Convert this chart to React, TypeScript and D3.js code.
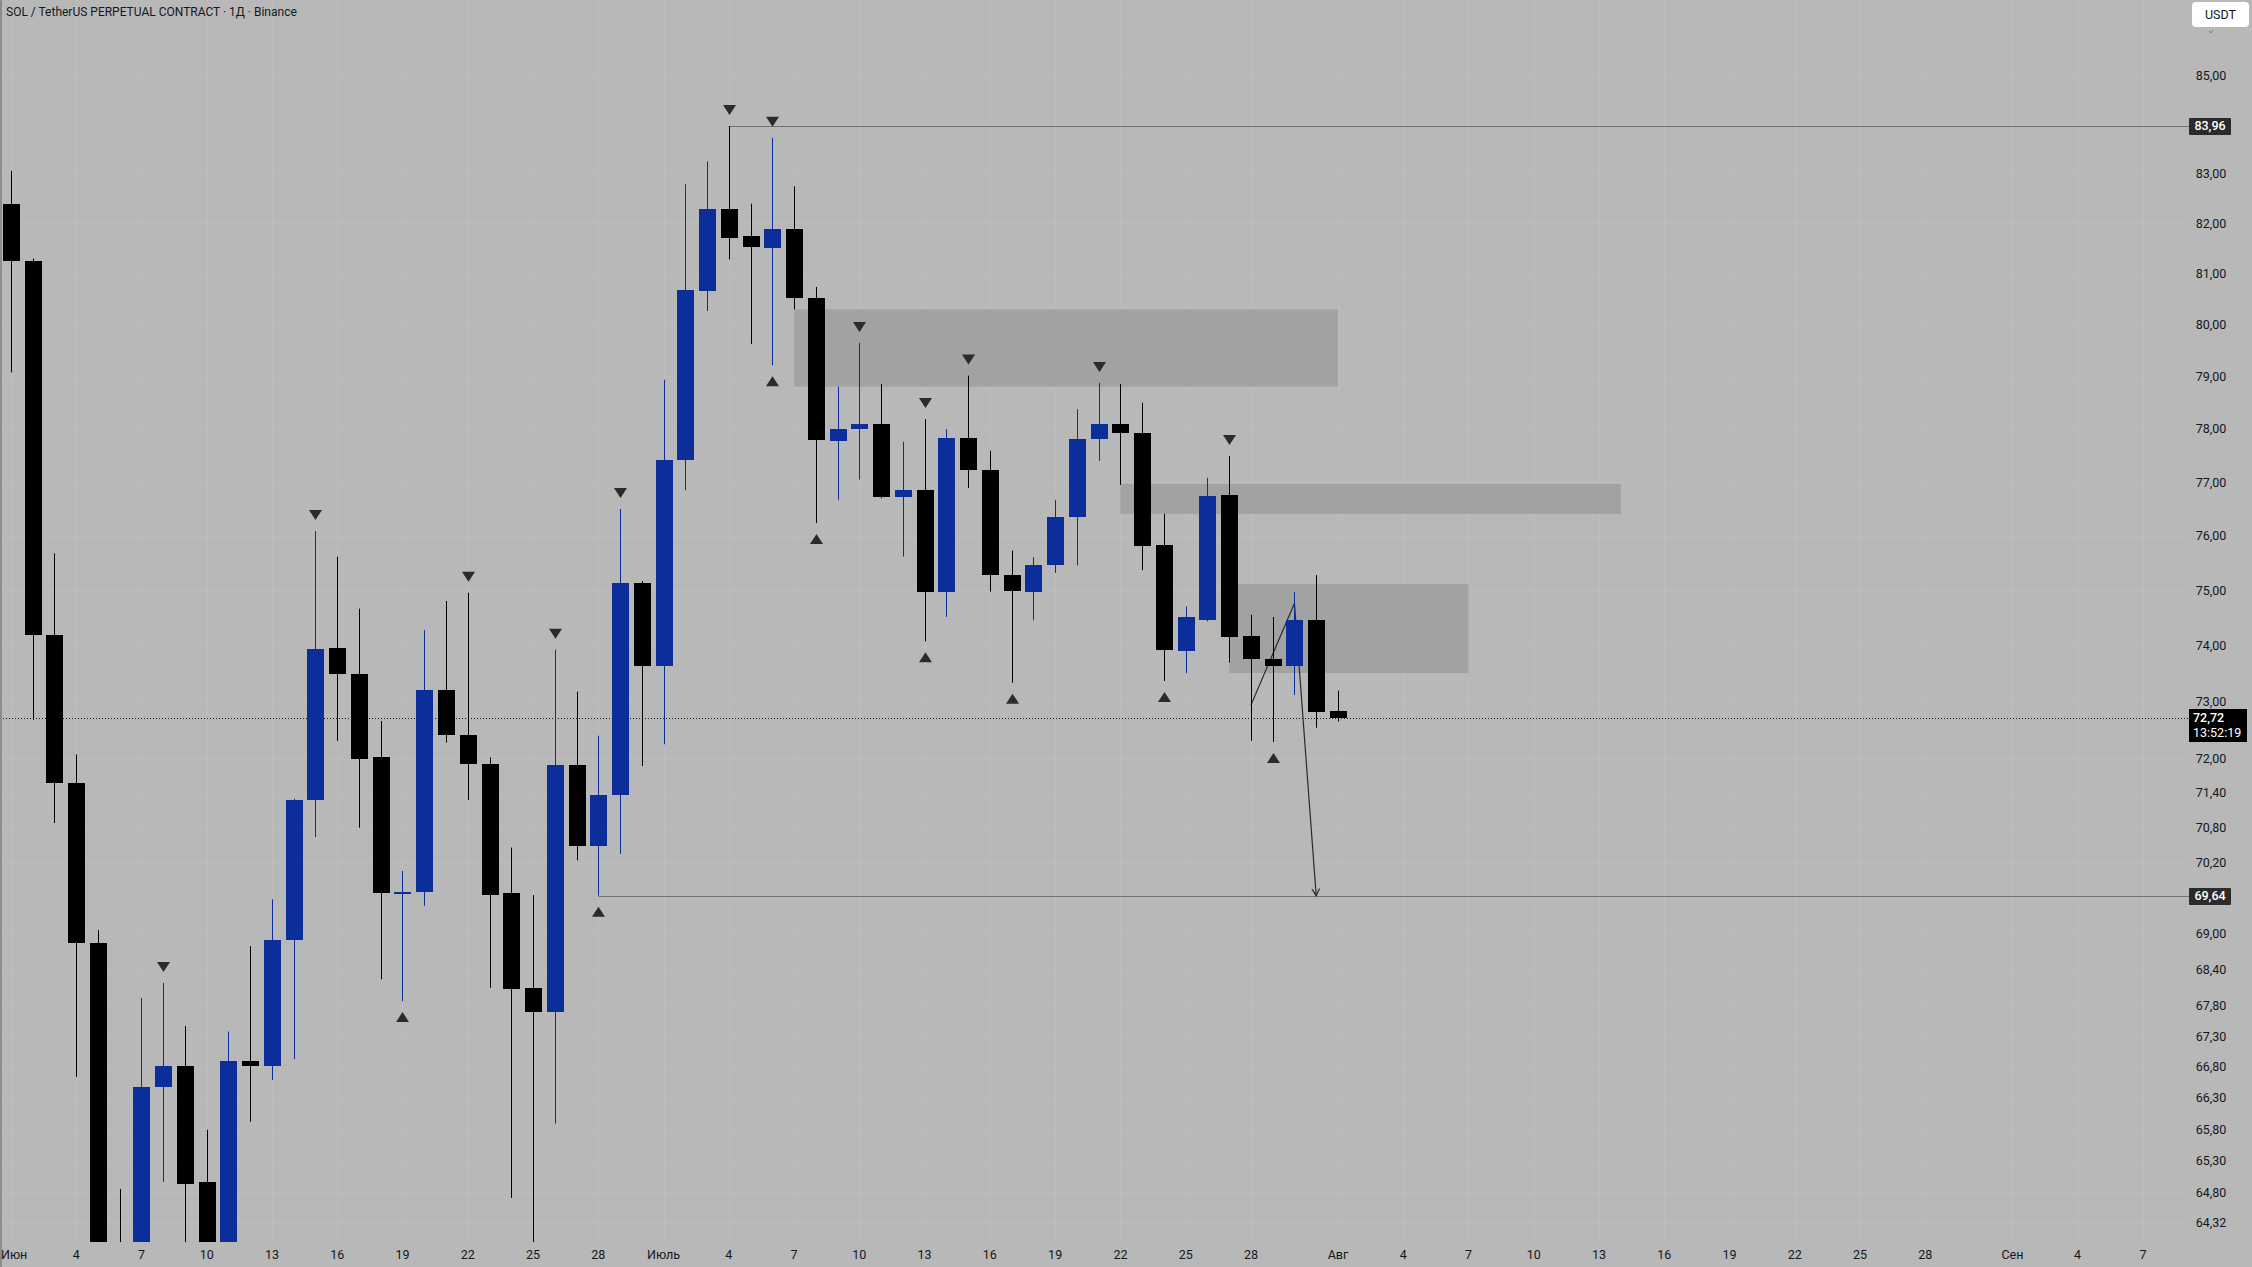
import * as d3 from "d3";

// Daily candles, 1 Jun .. 1 Aug (SOL/USDT perpetual, Binance, 1D)
const FIRST_DAY = "2025-06-01";
const OPEN = [
  82.38, 81.25, 74.19, 71.58, 68.85, 63.6, 63.2, 66.48, 66.81, 64.96,
  63.55, 66.9, 66.81, 68.9, 71.27, 73.96, 73.5, 72.02, 69.69, 69.7,
  73.21, 72.42, 71.91, 69.69, 68.1, 67.7, 71.89, 70.48, 71.37, 75.13,
  73.63, 77.41, 80.67, 82.28, 81.75, 81.51, 81.89, 80.53, 77.77, 78.0,
  78.09, 76.73, 76.86, 74.98, 77.83, 77.23, 75.29, 74.98, 75.47, 76.35,
  77.81, 78.09, 77.92, 75.84, 73.91, 74.46, 76.76, 74.17, 73.77, 73.64,
  74.46, 72.83,
];
const HIGH = [
  83.05, 81.3, 75.68, 72.07, 69.06, 64.85, 67.93, 68.18, 67.47, 65.79,
  67.38, 68.79, 69.58, 71.3, 76.09, 75.62, 74.67, 72.66, 70.06, 74.28,
  74.81, 74.96, 72.02, 70.46, 69.65, 73.93, 73.18, 72.4, 76.5, 75.17,
  78.94, 82.78, 83.24, 83.96, 82.39, 83.72, 82.74, 80.74, 78.81, 79.65,
  78.86, 77.76, 78.19, 78.0, 79.02, 77.59, 75.73, 75.61, 76.67, 78.38,
  78.88, 78.86, 78.5, 76.41, 74.71, 77.08, 77.49, 74.56, 74.52, 74.97,
  75.28, 73.2,
];
const LOW = [
  79.08, 72.68, 70.88, 66.64, 62.9, 62.7, 62.95, 64.96, 63.4, 63.1,
  63.3, 65.92, 66.59, 66.93, 70.64, 72.31, 70.8, 68.24, 67.88, 69.47,
  72.28, 71.28, 68.1, 64.71, 63.9, 65.89, 70.24, 69.64, 70.35, 71.87,
  72.25, 76.85, 80.27, 81.28, 79.63, 79.22, 80.3, 76.24, 76.67, 77.05,
  76.7, 75.62, 74.08, 74.52, 76.89, 74.98, 73.34, 74.46, 75.32, 75.46,
  77.4, 76.95, 75.37, 73.37, 73.51, 74.44, 73.7, 72.31, 72.29, 73.12,
  72.54, 72.65,
];
const CLOSE = [
  81.25, 74.19, 71.58, 68.85, 63.6, 63.2, 66.48, 66.81, 64.93, 63.55,
  66.9, 66.82, 68.9, 71.27, 73.94, 73.49, 72.0, 69.69, 69.71, 73.21,
  72.42, 71.91, 69.66, 68.08, 67.7, 71.89, 70.48, 71.37, 75.13, 73.63,
  77.41, 80.68, 82.28, 81.7, 81.53, 81.89, 80.53, 77.79, 78.0, 78.09,
  76.73, 76.86, 74.98, 77.83, 77.23, 75.29, 75.0, 75.47, 76.35, 77.81,
  78.1, 77.92, 75.82, 73.92, 74.51, 76.75, 74.16, 73.77, 73.64, 74.46,
  72.82, 72.72,
];

// pivot markers
const HIGH_MARKS = [
  "2025-06-08", "2025-06-15", "2025-06-22", "2025-06-26", "2025-06-29", "2025-07-04",
  "2025-07-06", "2025-07-10", "2025-07-13", "2025-07-15", "2025-07-21", "2025-07-27",
];
const LOW_MARKS = [
  "2025-06-19", "2025-06-28", "2025-07-06", "2025-07-08", "2025-07-13", "2025-07-17",
  "2025-07-24", "2025-07-29",
];

// gap zones
const ZONE_FROM = ["2025-07-07", "2025-07-22", "2025-07-27"];
const ZONE_TO = ["2025-08-01", "2025-08-14", "2025-08-07"];
const ZONE_TOP = [80.3, 76.97, 75.12];
const ZONE_BOTTOM = [78.81, 76.41, 73.51];

// horizontal levels
const LEVEL_FROM = ["2025-07-04", "2025-06-28"];
const LEVEL_PRICE = [83.96, 69.64];
const LAST_PRICE = 72.72;
const COUNTDOWN = "13:52:19";

// hand drawn path
const PATH_DATES = ["2025-07-28", "2025-07-30", "2025-07-31"];
const PATH_PRICES = [72.94, 74.77, 69.64];

const Y_TICKS = [
  85, 83, 82, 81, 80, 79, 78, 77, 76, 75, 74, 73, 72, 71.4, 70.8, 70.2, 69, 68.4,
  67.8, 67.3, 66.8, 66.3, 65.8, 65.3, 64.8, 64.32,
];
const X_TICKS = [
  "2025-06-01", "2025-06-04", "2025-06-07", "2025-06-10", "2025-06-13", "2025-06-16",
  "2025-06-19", "2025-06-22", "2025-06-25", "2025-06-28", "2025-07-01", "2025-07-04",
  "2025-07-07", "2025-07-10", "2025-07-13", "2025-07-16", "2025-07-19", "2025-07-22",
  "2025-07-25", "2025-07-28", "2025-08-01", "2025-08-04", "2025-08-07", "2025-08-10",
  "2025-08-13", "2025-08-16", "2025-08-19", "2025-08-22", "2025-08-25", "2025-08-28",
  "2025-09-01", "2025-09-04", "2025-09-07",
];
const MONTHS = ["Янв", "Фев", "Мар", "Апр", "Май", "Июн", "Июль", "Авг", "Сен", "Окт", "Ноя", "Дек"];

const W = 2252;
const H = 1267;
const PLOT_R = 2189;
const PLOT_B = 1242;
const FONT = "Roboto, 'Liberation Sans', sans-serif";
const BG = "#b8b8b8";
const BLUE = "#0b2e9a";
const TEXT = "#131722";

const day = (s: string) => new Date(s + "T00:00:00Z");
const fmt = (v: number) => v.toFixed(2).replace(".", ",");

export default function App() {
  const x = d3.scaleUtc().domain([day("2025-06-01"), day("2025-09-07")]).range([10.9, 2142.9]);
  const y = d3.scaleLog().domain([83.96, 69.64]).range([126, 895.7]);
  const step = x(day("2025-06-02")) - x(day("2025-06-01"));
  const bodyW = Math.round(step * 0.77);

  const candles = OPEN.map((o, i) => ({
    date: d3.utcDay.offset(day(FIRST_DAY), i),
    o, h: HIGH[i], l: LOW[i], c: CLOSE[i],
  }));
  const byKey = new Map(candles.map((d) => [d3.utcFormat("%Y-%m-%d")(d.date), d]));

  const pathLine = d3.line<number>()
    .x((_, i) => x(day(PATH_DATES[i])))
    .y((p) => y(p));
  const n = PATH_DATES.length;
  const endX = x(day(PATH_DATES[n - 1]));
  const endY = y(PATH_PRICES[n - 1]);
  const prevX = x(day(PATH_DATES[n - 2]));
  const prevY = y(PATH_PRICES[n - 2]);
  const ang = Math.atan2(endY - prevY, endX - prevX);
  const ah = 8;
  const arrow = `M${endX - ah * Math.cos(ang - 0.5)},${endY - ah * Math.sin(ang - 0.5)}L${endX},${endY}L${endX - ah * Math.cos(ang + 0.5)},${endY - ah * Math.sin(ang + 0.5)}`;

  const tri = (cx: number, cy: number, down: boolean) =>
    down
      ? `M${cx - 6.5},${cy - 5}L${cx + 6.5},${cy - 5}L${cx},${cy + 5}Z`
      : `M${cx - 6.5},${cy + 5}L${cx + 6.5},${cy + 5}L${cx},${cy - 5}Z`;

  const lastY = y(LAST_PRICE);

  return (
    <div>
      <style>{`body{margin:0;background:${BG};}`}</style>
      <svg width={W} height={H} style={{ display: "block", fontFamily: FONT }}>
        <defs>
          <clipPath id="plot">
            <rect x={0} y={0} width={PLOT_R} height={PLOT_B} />
          </clipPath>
        </defs>
        <rect x={0} y={0} width={W} height={H} fill={BG} />

        {/* grid */}
        <g stroke="#bdbdbd" strokeWidth={1}>
          {X_TICKS.map((t) => {
            const gx = Math.round(x(day(t))) + 0.5;
            return <line key={t} x1={gx} x2={gx} y1={0} y2={PLOT_B} />;
          })}
          {Y_TICKS.map((t) => {
            const gy = Math.round(y(t)) + 0.5;
            return <line key={t} x1={0} x2={PLOT_R} y1={gy} y2={gy} />;
          })}
        </g>

        <g clipPath="url(#plot)">
          {/* zones */}
          {ZONE_FROM.map((f, i) => (
            <rect
              key={f}
              x={x(day(f))}
              width={x(day(ZONE_TO[i])) - x(day(f))}
              y={y(ZONE_TOP[i])}
              height={y(ZONE_BOTTOM[i]) - y(ZONE_TOP[i])}
              fill="#a2a2a2"
            />
          ))}

          {/* levels */}
          {LEVEL_FROM.map((f, i) => {
            const ly = Math.round(y(LEVEL_PRICE[i])) + 0.5;
            return <line key={f} x1={x(day(f))} x2={PLOT_R} y1={ly} y2={ly} stroke="#707070" strokeWidth={1} />;
          })}
          <line x1={0} x2={PLOT_R} y1={Math.round(lastY) + 0.5} y2={Math.round(lastY) + 0.5}
            stroke="#1a1a1a" strokeWidth={1} strokeDasharray="1 2" />

          {/* drawing */}
          <path d={pathLine(PATH_PRICES) ?? ""} fill="none" stroke="#2a2a2a" strokeWidth={1.2} />
          <path d={arrow} fill="none" stroke="#2a2a2a" strokeWidth={1.2} />

          {/* candles */}
          {candles.map((d, i) => {
            const cx = Math.round(x(d.date));
            const up = d.c >= d.o;
            const col = up ? BLUE : "#000";
            const top = Math.round(y(Math.max(d.o, d.c)));
            const bot = Math.round(y(Math.min(d.o, d.c)));
            return (
              <g key={i}>
                <line x1={cx + 0.5} x2={cx + 0.5} y1={y(d.h)} y2={y(d.l)} stroke={col} strokeWidth={1} />
                <rect x={cx - Math.floor(bodyW / 2)} y={top} width={bodyW} height={Math.max(2, bot - top)} fill={col} />
              </g>
            );
          })}

          {/* pivot markers */}
          {HIGH_MARKS.map((k) => {
            const d = byKey.get(k)!;
            return <path key={"h" + k} d={tri(Math.round(x(d.date)) + 0.5, y(d.h) - 16, true)} fill="#2b2b2b" />;
          })}
          {LOW_MARKS.map((k) => {
            const d = byKey.get(k)!;
            return <path key={"l" + k} d={tri(Math.round(x(d.date)) + 0.5, y(d.l) + 16, false)} fill="#2b2b2b" />;
          })}
        </g>

        {/* left pane border */}
        <rect x={0} y={0} width={2} height={H} fill="#8c8c8c" />

        {/* price axis */}
        <g fontSize={12.5} fill={TEXT} textAnchor="middle">
          {Y_TICKS.map((t) => (
            <text key={t} x={2211} y={y(t)} dy="0.35em">{fmt(t)}</text>
          ))}
        </g>
        {LEVEL_PRICE.map((p) => (
          <g key={p}>
            <rect x={2189} y={Math.round(y(p)) - 8} width={42} height={17} fill="#2b2b2b" rx={1} />
            <text x={2210} y={y(p)} dy="0.35em" fontSize={12.5} fontWeight={500} fill="#fff" textAnchor="middle">{fmt(p)}</text>
          </g>
        ))}
        <rect x={2189} y={Math.round(lastY) - 9} width={58} height={33} fill="#000" />
        <text x={2193} y={lastY} dy="0.35em" fontSize={12.5} fontWeight={500} fill="#fff">{fmt(LAST_PRICE)}</text>
        <text x={2193} y={lastY + 15} dy="0.35em" fontSize={12.5} fill="#fff">{COUNTDOWN}</text>

        {/* time axis */}
        <g fontSize={12.5} fill={TEXT}>
          {X_TICKS.map((t, i) => {
            const dt = day(t);
            const dd = dt.getUTCDate();
            const label = dd === 1 ? MONTHS[dt.getUTCMonth()] : String(dd);
            // first label sits on the pane edge
            return i === 0 ? (
              <text key={t} x={1} y={1255} dy="0.35em" textAnchor="start">{label}</text>
            ) : (
              <text key={t} x={x(dt)} y={1255} dy="0.35em" textAnchor="middle">{label}</text>
            );
          })}
        </g>

        {/* header */}
        <text x={6} y={11.5} dy="0.35em" fontSize={12} fill={TEXT}>
          SOL / TetherUS PERPETUAL CONTRACT · 1Д · Binance
        </text>

        {/* currency button */}
        <rect x={2192} y={2} width={57} height={25} rx={4} fill="#fff" />
        <text x={2220.5} y={14.5} dy="0.35em" fontSize={12.5} fill={TEXT} textAnchor="middle">USDT</text>
        <path d="M2209,31 L2211,33 L2213,30" fill="none" stroke="#777" strokeWidth={1} />
      </svg>
    </div>
  );
}
